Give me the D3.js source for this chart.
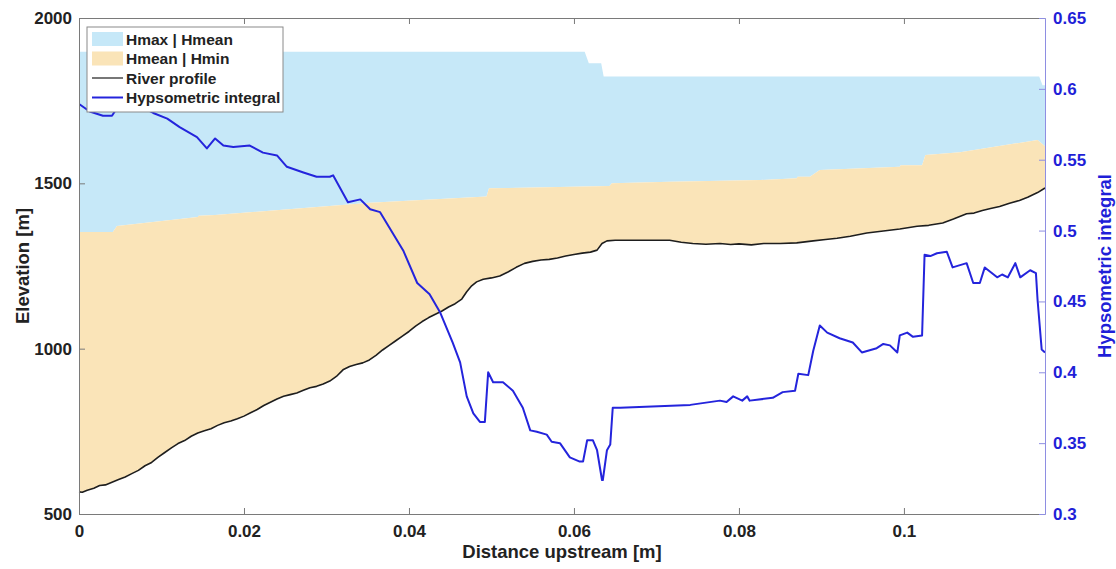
<!DOCTYPE html>
<html>
<head>
<meta charset="utf-8">
<script src="https://cdn.jsdelivr.net/npm/d3@7"></script>
<style>
  body { margin: 0; background: #fff; }
  svg { display: block; font-family: "Liberation Sans", Arial, Helvetica, sans-serif; font-weight: bold; }
</style>
</head>
<body>
<svg id="chart" width="1116" height="569"></svg>
<script>
// Basin envelope: maximum elevation along the stream
const hmaxDist = [0, 0.0613, 0.0618, 0.0633, 0.0636, 0.1164, 0.1168, 0.1171];
const hmaxElev = [1898, 1898, 1863, 1863, 1823, 1823, 1797, 1797];

// Mean basin elevation
const hmeanDist = [0, 0.0041, 0.0046, 0.0144, 0.0145, 0.0165, 0.0353, 0.0494, 0.0497, 0.0643, 0.0646,
                   0.0716, 0.0826, 0.0870, 0.0871, 0.0886, 0.0898, 0.0995, 0.0996, 0.1022, 0.1026,
                   0.1068, 0.1162, 0.1171];
const hmeanElev = [1353, 1353, 1371, 1398, 1402, 1404, 1441, 1460, 1485, 1492, 1500,
                   1505, 1510, 1515, 1520, 1520, 1540, 1550, 1555, 1555, 1586,
                   1594, 1631, 1612];

// River long profile (also the minimum elevation)
const profileDist = [0, 0.0004, 0.0010, 0.0018, 0.0025, 0.0032, 0.0040, 0.0048, 0.0056, 0.0064,
                     0.0072, 0.0080, 0.0088, 0.0096, 0.0104, 0.0112, 0.0120, 0.0128, 0.0136, 0.0144,
                     0.0152, 0.0160, 0.0168, 0.0176, 0.0184, 0.0192, 0.0200, 0.0208, 0.0216, 0.0224,
                     0.0232, 0.0240, 0.0248, 0.0256, 0.0264, 0.0272, 0.0280, 0.0288, 0.0296, 0.0304,
                     0.0312, 0.0320, 0.0328, 0.0336, 0.0344, 0.0352, 0.0360, 0.0368, 0.0376, 0.0384,
                     0.0392, 0.0400, 0.0408, 0.0416, 0.0424, 0.0432, 0.0440, 0.0448, 0.0456, 0.0464,
                     0.0470, 0.0476, 0.0482, 0.0490, 0.0500, 0.0510, 0.0520, 0.0530, 0.0540, 0.0550,
                     0.0560, 0.0570, 0.0580, 0.0590, 0.0600, 0.0610, 0.0620, 0.0628, 0.0634, 0.0640,
                     0.0650, 0.0716, 0.0730, 0.0744, 0.0760, 0.0777, 0.0790, 0.0800, 0.0815, 0.0830,
                     0.0850, 0.0870, 0.0890, 0.0905, 0.0919, 0.0935, 0.0955, 0.0975, 0.0995, 0.1016,
                     0.1030, 0.1047, 0.1060, 0.1076, 0.1085, 0.1095, 0.1105, 0.1116, 0.1128, 0.1140,
                     0.1150, 0.1162, 0.1171];
const profileElev = [567, 566, 572, 578, 586, 588, 596, 604, 612, 622,
                     632, 646, 656, 672, 686, 700, 713, 722, 735, 745,
                     752, 758, 768, 776, 781, 788, 796, 806, 816, 828,
                     838, 848, 856, 861, 866, 874, 882, 886, 893, 902,
                     916, 936, 946, 952, 957, 966, 980, 996, 1010, 1024,
                     1038, 1052, 1068, 1082, 1094, 1104, 1114, 1126, 1136, 1150,
                     1172, 1190, 1202, 1210, 1214, 1220, 1232, 1246, 1258, 1264,
                     1268, 1270, 1274, 1280, 1285, 1289, 1292, 1298, 1318, 1326,
                     1328, 1328, 1322, 1318, 1316, 1318, 1315, 1317, 1314, 1318,
                     1318, 1320, 1326, 1330, 1334, 1340, 1350, 1356, 1362, 1370,
                     1373, 1380, 1392, 1408, 1410, 1418, 1424, 1430, 1440, 1448,
                     1458, 1472, 1486];

// Hypsometric integral along the stream
const hiDist = [0, 0.0001, 0.0013, 0.0029, 0.0040, 0.0050, 0.0074, 0.0090, 0.0107, 0.0122, 0.0143,
                0.0155, 0.0165, 0.0175, 0.0187, 0.0207, 0.0223, 0.0240, 0.0252, 0.0272, 0.0288,
                0.0304, 0.0308, 0.0326, 0.0341, 0.0353, 0.0365, 0.0393, 0.0410, 0.0425, 0.0438,
                0.0453, 0.0462, 0.0470, 0.0478, 0.0486, 0.0492, 0.0496, 0.0502, 0.0514, 0.0526,
                0.0538, 0.0547, 0.0555, 0.0567, 0.0573, 0.0583, 0.0595, 0.0607, 0.0611, 0.0616,
                0.0623, 0.0628, 0.0634, 0.0635, 0.0640, 0.0644, 0.0647, 0.0656, 0.0741, 0.0777,
                0.0785, 0.0793, 0.0804, 0.0810, 0.0813, 0.0841, 0.0853, 0.0868, 0.0872, 0.0884,
                0.0890, 0.0898, 0.0907, 0.0922, 0.0938, 0.0949, 0.0967, 0.0975, 0.0983, 0.0992,
                0.0995, 0.1004, 0.1011, 0.1022, 0.1025, 0.1032, 0.1040, 0.1052, 0.1059, 0.1076,
                0.1084, 0.1092, 0.1098, 0.1113, 0.1119, 0.1126, 0.1135, 0.1141, 0.1153, 0.1160,
                0.1162, 0.1167, 0.1171];
const hiVals = [0.589, 0.589, 0.584, 0.581, 0.581, 0.590, 0.588, 0.583, 0.579, 0.573, 0.566,
                0.558, 0.565, 0.560, 0.559, 0.560, 0.555, 0.553, 0.545, 0.541, 0.538,
                0.538, 0.539, 0.520, 0.522, 0.515, 0.513, 0.486, 0.463, 0.455, 0.442,
                0.421, 0.407, 0.383, 0.371, 0.365, 0.365, 0.400, 0.393, 0.393, 0.387,
                0.375, 0.359, 0.358, 0.356, 0.351, 0.350, 0.340, 0.337, 0.337, 0.352,
                0.352, 0.345, 0.324, 0.324, 0.345, 0.349, 0.375, 0.375, 0.377, 0.380,
                0.379, 0.383, 0.380, 0.383, 0.380, 0.382, 0.386, 0.387, 0.399, 0.398,
                0.415, 0.433, 0.428, 0.424, 0.421, 0.414, 0.417, 0.420, 0.419, 0.414,
                0.426, 0.428, 0.425, 0.426, 0.483, 0.482, 0.484, 0.485, 0.474, 0.477,
                0.463, 0.463, 0.474, 0.467, 0.469, 0.467, 0.477, 0.467, 0.472, 0.470,
                0.451, 0.416, 0.414];

// Tick values
const distTicks = [0, 0.02, 0.04, 0.06, 0.08, 0.1];
const elevTicks = [500, 1000, 1500, 2000];
const hiTicks = [0.3, 0.35, 0.4, 0.45, 0.5, 0.55, 0.6, 0.65];

const colors = {
  upper: "#c6e8f8",
  lower: "#fae4b8",
  profile: "#1e1e1e",
  hi: "#2424dc",
  hiAxis: "#8e8ee2",
  hiText: "#1f1fd8",
  axis: "#7a7a7a",
  text: "#222"
};

const svg = d3.select("#chart");
const margin = { left: 79, right: 1045, top: 18, bottom: 514 };

const x = d3.scaleLinear().domain([0, 0.1171]).range([margin.left, margin.right]);
const yL = d3.scaleLinear().domain([500, 2000]).range([margin.bottom, margin.top]);
const yR = d3.scaleLinear().domain([0.3, 0.65]).range([margin.bottom, margin.top]);

const zip = (xs, ys) => xs.map((d, i) => [d, ys[i]]);
const hmax = zip(hmaxDist, hmaxElev);
const hmean = zip(hmeanDist, hmeanElev);
const profile = zip(profileDist, profileElev);
const hi = zip(hiDist, hiVals);

const lineL = d3.line().x(d => x(d[0])).y(d => yL(d[1]));
const lineR = d3.line().x(d => x(d[0])).y(d => yR(d[1]));

// Band between Hmax and Hmean
svg.append("path")
  .attr("d", lineL(hmax.concat(hmean.slice().reverse())) + "Z")
  .attr("fill", colors.upper);

// Band between Hmean and Hmin (river profile)
svg.append("path")
  .attr("d", lineL(hmean.concat(profile.slice().reverse())) + "Z")
  .attr("fill", colors.lower);

// River profile
svg.append("path")
  .attr("d", lineL(profile))
  .attr("fill", "none")
  .attr("stroke", colors.profile)
  .attr("stroke-width", 1.6)
  .attr("stroke-linejoin", "round");

// Hypsometric integral
svg.append("path")
  .attr("d", lineR(hi))
  .attr("fill", "none")
  .attr("stroke", colors.hi)
  .attr("stroke-width", 2)
  .attr("stroke-linejoin", "round");

// Axes
function styleAxis(g, lineColor, textColor) {
  g.select(".domain").attr("stroke", lineColor).attr("stroke-width", 1);
  g.selectAll(".tick line").attr("stroke", lineColor);
  g.selectAll(".tick text").attr("fill", textColor)
    .style("font-size", "17px").style("font-weight", "bold")
    .style("font-family", "'Liberation Sans', Arial, sans-serif");
}

const gBottom = svg.append("g").attr("transform", `translate(0,${margin.bottom})`)
  .call(d3.axisBottom(x).tickValues(distTicks).tickFormat(d3.format("")).tickSizeInner(-6).tickSizeOuter(0).tickPadding(11));
styleAxis(gBottom, colors.axis, colors.text);

const gTop = svg.append("g").attr("transform", `translate(0,${margin.top})`)
  .call(d3.axisTop(x).tickValues(distTicks).tickFormat("").tickSizeInner(-6).tickSizeOuter(0));
styleAxis(gTop, colors.axis, colors.text);

const gLeft = svg.append("g").attr("transform", `translate(${margin.left},0)`)
  .call(d3.axisLeft(yL).tickValues(elevTicks).tickFormat(d3.format("d")).tickSizeInner(-6).tickSizeOuter(0).tickPadding(7));
styleAxis(gLeft, colors.axis, colors.text);

const gRight = svg.append("g").attr("transform", `translate(${margin.right},0)`)
  .call(d3.axisRight(yR).tickValues(hiTicks).tickFormat(d3.format("")).tickSizeInner(-6).tickSizeOuter(0).tickPadding(8));
styleAxis(gRight, colors.hiAxis, colors.hiText);

// Axis titles
svg.append("text")
  .attr("transform", `translate(29,${(margin.top + margin.bottom) / 2}) rotate(-90)`)
  .attr("text-anchor", "middle")
  .attr("fill", colors.text)
  .style("font-size", "18.5px")
  .text("Elevation [m]");

svg.append("text")
  .attr("x", (margin.left + margin.right) / 2)
  .attr("y", 558)
  .attr("text-anchor", "middle")
  .attr("fill", colors.text)
  .style("font-size", "18.5px")
  .text("Distance upstream [m]");

svg.append("text")
  .attr("transform", `translate(1111,${(margin.top + margin.bottom) / 2}) rotate(-90)`)
  .attr("text-anchor", "middle")
  .attr("fill", colors.hiText)
  .style("font-size", "18.5px")
  .text("Hypsometric integral");

// Legend
const legendItems = [
  { label: "Hmax | Hmean", kind: "patch", color: colors.upper },
  { label: "Hmean | Hmin", kind: "patch", color: colors.lower },
  { label: "River profile", kind: "line", color: "#555" },
  { label: "Hypsometric integral", kind: "line", color: colors.hi }
];

const legend = svg.append("g").attr("transform", "translate(87,27)");
legend.append("rect")
  .attr("width", 196).attr("height", 85)
  .attr("fill", "#fff").attr("stroke", "#8a8a8a").attr("stroke-width", 1);

legendItems.forEach((item, i) => {
  const cy = 12 + i * 19.5;
  if (item.kind === "patch") {
    legend.append("rect").attr("x", 5).attr("y", cy - 7).attr("width", 31).attr("height", 14)
      .attr("fill", item.color);
  } else {
    legend.append("line").attr("x1", 5).attr("x2", 36).attr("y1", cy).attr("y2", cy)
      .attr("stroke", item.color).attr("stroke-width", item.color === colors.hi ? 2 : 1.6);
  }
  legend.append("text")
    .attr("x", 39).attr("y", cy + 5.5)
    .attr("fill", colors.text)
    .style("font-size", "15.5px")
    .text(item.label);
});
</script>
</body>
</html>
